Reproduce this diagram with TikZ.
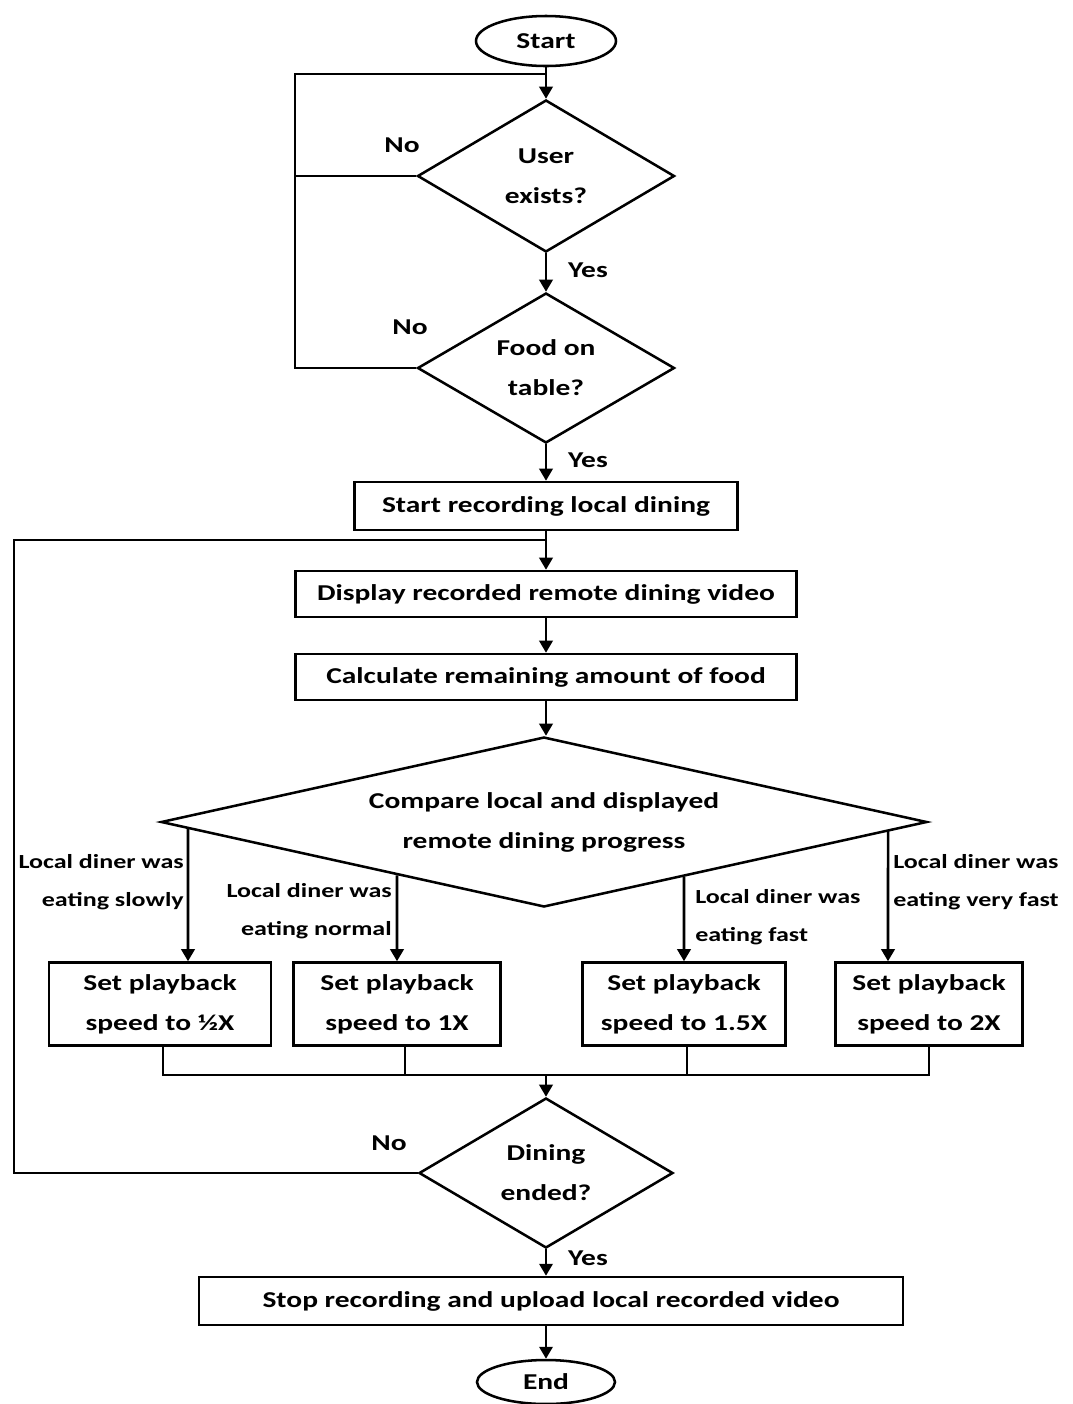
\documentclass[tikz,border=0pt]{standalone}
\usepackage{fontspec}
\setmainfont{Carlito}[FakeStretch=1.3]
\usetikzlibrary{arrows.meta,shapes.geometric}
\newdimen\pxu \pxu=0.75pt
\begin{document}
\begin{tikzpicture}[x=0.75pt,y=-0.75pt,
  every node/.style={font=\bfseries\fontsize{17}{30}\selectfont, inner sep=0pt},
  line/.style={line width=1.9pt},
  arrow/.style={line, -{Triangle[length=9pt,width=10pt]}},
  terminal/.style={ellipse, draw, line width=1.9pt},
  decision/.style={diamond, draw, line width=1.9pt, aspect=1.7, align=center},
  process/.style={rectangle, draw, line width=1.9pt, align=center},
  lbl/.style={font=\bfseries\fontsize{15}{28.5}\selectfont}]
\useasboundingbox (0,0) rectangle (1072,1404);

% main column
\node[terminal, minimum width=140\pxu, minimum height=50\pxu] (start) at (546,41) {Start};
\node[decision, minimum width=257\pxu, minimum height=152\pxu] (d1) at (546,176) {User\\exists?};
\node[decision, minimum width=257\pxu, minimum height=150\pxu] (d2) at (546,368) {Food on\\table?};
\node[process, minimum width=383\pxu, minimum height=48\pxu] (rec) at (546,506) {Start recording local dining};
\node[process, minimum width=501\pxu, minimum height=46\pxu] (disp) at (546,594) {Display recorded remote dining video};
\node[process, minimum width=501\pxu, minimum height=46\pxu] (calc) at (546,677) {Calculate remaining amount of food};
\node[decision, aspect=4.5, minimum width=766\pxu, minimum height=170\pxu] (d3) at (544,822) {Compare local and displayed\\remote dining progress};

% playback speed boxes
\node[process, minimum width=222\pxu, minimum height=83\pxu] (b1) at (160,1004) {Set playback\\speed to ½X};
\node[process, minimum width=207\pxu, minimum height=83\pxu] (b2) at (397,1004) {Set playback\\speed to 1X};
\node[process, minimum width=203\pxu, minimum height=83\pxu] (b3) at (684,1004) {Set playback\\speed to 1.5X};
\node[process, minimum width=187\pxu, minimum height=83\pxu] (b4) at (929,1004) {Set playback\\speed to 2X};

\node[decision, minimum width=254\pxu, minimum height=150\pxu] (d4) at (546,1173) {Dining\\ended?};
\node[process, minimum width=704\pxu, minimum height=48\pxu] (stop) at (551,1301) {Stop recording and upload local recorded video};
\node[terminal, minimum width=138\pxu, minimum height=44\pxu] (end) at (546,1382) {End};

% helper coordinates
\coordinate (lp1) at (295,74);
\coordinate (j1) at (546,74);
\coordinate (lp2) at (14,540);
\coordinate (j2) at (546,540);
\coordinate (bus) at (546,1075);
\coordinate (x1) at (188,0);
\coordinate (x2) at (397,0);
\coordinate (x3) at (684,0);
\coordinate (x4) at (888,0);
\coordinate (t1) at (b1.north -| x1);
\coordinate (t2) at (b2.north -| x2);
\coordinate (t3) at (b3.north -| x3);
\coordinate (t4) at (b4.north -| x4);

% main flow
\draw[arrow] (start) -- (d1);
\draw[arrow] (d1) -- (d2);
\draw[arrow] (d2) -- (rec);
\draw[arrow] (rec) -- (disp);
\draw[arrow] (disp) -- (calc);
\draw[arrow] (calc) -- (d3.north -| calc);
\draw[arrow] (bus) -- (d4);
\draw[arrow] (d4) -- (stop.north -| d4);
\draw[arrow] (stop.south -| end) -- (end);

% retry loops
\draw[line] (d2.west) -| (lp1) -- (j1);
\draw[line] (d1.west) -- (d1.west -| lp1);
\draw[line] (d4.west) -| (lp2) -- (j2);

% branches
\draw[arrow] (intersection of d3.west--d3.south and x1--t1) -- (t1);
\draw[arrow] (intersection of d3.west--d3.south and x2--t2) -- (t2);
\draw[arrow] (intersection of d3.east--d3.south and x3--t3) -- (t3);
\draw[arrow] (intersection of d3.east--d3.south and x4--t4) -- (t4);

% merge bus
\draw[line] (b1.south -| 163,0) |- (b4.south |- bus) -- (b4.south);
\draw[line] (b2.south -| 405,0) -- (bus -| 405,0);
\draw[line] (b3.south -| 687,0) -- (bus -| 687,0);

% labels
\node (n1) at (402,145) {No};
\node (y1) at (588,270) {Yes};
\node (n2) at (410,327) {No};
\node (y2) at (588,460) {Yes};
\node (n3) at (389,1143) {No};
\node (y3) at (588,1258) {Yes};
\node[lbl, align=right, anchor=east] (l1) at (184,882) {Local diner was\\eating slowly};
\node[lbl, align=right, anchor=east] (l2) at (392,911) {Local diner was\\eating normal};
\node[lbl, align=left, anchor=west] (l3) at (695,917) {Local diner was\\eating fast};
\node[lbl, align=left, anchor=west] (l4) at (893,882) {Local diner was\\eating very fast};
\end{tikzpicture}
\end{document}
